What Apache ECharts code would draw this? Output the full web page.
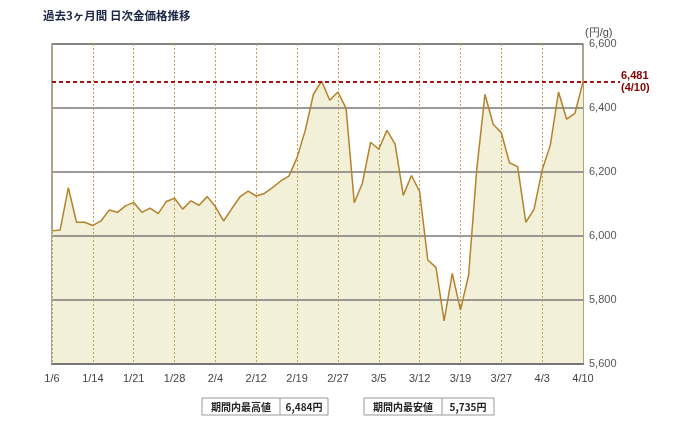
<!DOCTYPE html>
<html><head><meta charset="utf-8">
<script src="https://cdn.jsdelivr.net/npm/echarts@6/dist/echarts.min.js"></script>
<style>html,body{margin:0;padding:0;background:#fff}#c{width:680px;height:424px}</style>
</head><body><div id="c"></div>
<script>
var title = '過去3ヶ月間 日次金価格推移';
var unitLabel = '(円/g)';
var dates = ['1/6','1/7','1/8','1/9','1/10','1/14','1/15','1/16','1/17','1/20','1/21','1/22','1/23','1/24','1/27','1/28','1/29','1/30','1/31',
'2/3','2/4','2/5','2/6','2/7','2/10','2/12','2/13','2/14','2/17','2/18','2/19','2/20','2/21','2/25','2/26','2/27','2/28',
'3/2','3/3','3/4','3/5','3/6','3/9','3/10','3/11','3/12','3/13','3/16','3/17','3/18','3/19','3/23','3/24','3/25','3/26','3/27','3/30','3/31',
'4/1','4/2','4/3','4/6','4/7','4/8','4/9','4/10'];
var prices = [6016,6019,6151,6043,6043,6033,6047,6081,6074,6094,6105,6074,6087,6070,6108,6118,6084,6110,6096,6123,
6092,6047,6085,6122,6140,6125,6133,6151,6172,6187,6245,6330,6443,6484,6424,6450,6399,6104,6165,6293,
6271,6330,6287,6127,6189,6139,5925,5902,5735,5883,5769,5878,6210,6443,6349,6323,6229,6217,6043,6083,
6206,6284,6450,6365,6383,6481];
var yMin = 5600, yMax = 6600, yStep = 200;
var highLabel = '期間内最高値', lowLabel = '期間内最安値';

function fmt(v){ return String(v).replace(/\B(?=(\d{3})+(?!\d))/g, ','); }
var lastIdx = prices.length - 1;
var lastVal = prices[lastIdx];
var maxVal = Math.max.apply(null, prices), minVal = Math.min.apply(null, prices);
var tickEvery = function(i){ return i % 5 === 0; };

var chart = echarts.init(document.getElementById('c'));
var font = "Arial, 'Liberation Sans', sans-serif";
var jp = "'Noto Sans CJK JP', sans-serif";
chart.setOption({
  animation: false,
  grid: {left: 52, right: 97, top: 44, bottom: 60, show: true, borderColor: '#888', borderWidth: 1.5},
  xAxis: {
    type: 'category', data: dates, boundaryGap: false, z: 2,
    axisLine: {show: true, lineStyle: {color: '#777', width: 2}},
    axisTick: {show: false},
    axisLabel: {interval: tickEvery, color: '#444', fontSize: 11, fontFamily: font, margin: 9, showMaxLabel: true},
    splitLine: {show: true, interval: tickEvery, lineStyle: {color: '#c4a24e', type: [2, 2], width: 1}}
  },
  yAxis: {
    type: 'value', position: 'right', min: yMin, max: yMax, interval: yStep, z: 2,
    name: unitLabel, nameLocation: 'end', nameGap: 6,
    nameTextStyle: {color: '#444', fontSize: 11, fontFamily: font, align: 'left', padding: [0, 0, 0, 2]},
    axisLine: {show: false}, axisTick: {show: false},
    axisLabel: {color: '#555', fontSize: 11, fontFamily: font, margin: 6, formatter: function(v){ return fmt(v); }},
    splitLine: {show: true, lineStyle: {color: '#7a7a7a', width: 1.5}}
  },
  series: [{
    type: 'line', data: prices, symbol: 'none', z: 1,
    lineStyle: {width: 0},
    areaStyle: {color: '#f2f0d9', opacity: 1},
    silent: true
  }, {
    type: 'line', data: prices, symbol: 'none', z: 3,
    lineStyle: {color: '#b5822a', width: 1.5},
    itemStyle: {color: '#b5822a'},
    markLine: {
      silent: true, symbol: 'none',
      lineStyle: {color: '#a31515', type: [4, 3], width: 2},
      label: {show: true, position: 'end', distance: 38, formatter: fmt(lastVal) + '\n(' + dates[lastIdx] + ')',
        color: '#8b0000', fontWeight: 'bold', fontSize: 11, fontFamily: font, lineHeight: 12, align: 'left'},
      data: [{yAxis: lastVal}]
    }
  }]
});

var yLine = chart.convertToPixel({yAxisIndex: 0}, lastVal);
function box(x, w1, w2, label, value){
  var y = 398, h = 17;
  return [
    {type: 'rect', shape: {x: x, y: y, width: w1 + w2, height: h}, style: {fill: '#fff', stroke: '#999', lineWidth: 1}},
    {type: 'line', shape: {x1: x + w1, y1: y, x2: x + w1, y2: y + h}, style: {stroke: '#999', lineWidth: 1}},
    {type: 'text', x: x + w1 / 2, y: y + h / 2 + 0.5, style: {text: label, fill: '#222', font: 'bold 10px ' + jp, align: 'center', verticalAlign: 'middle'}},
    {type: 'text', x: x + w1 + w2 / 2, y: y + h / 2 + 0.5, style: {text: value, fill: '#222', font: 'bold 10px ' + jp, align: 'center', verticalAlign: 'middle'}}
  ];
}
var g = [
  {type: 'text', left: 43, top: 10, style: {text: title, fill: '#1c2646', font: 'bold 11.5px ' + jp}},
  {type: 'line', shape: {x1: 583, y1: yLine, x2: 620, y2: yLine}, style: {stroke: '#a31515', lineWidth: 2, lineDash: [4, 3]}}
].concat(box(202, 78, 48, highLabel, fmt(maxVal) + '円'), box(364, 78, 52, lowLabel, fmt(minVal) + '円'));
chart.setOption({graphic: g});
</script></body></html>
